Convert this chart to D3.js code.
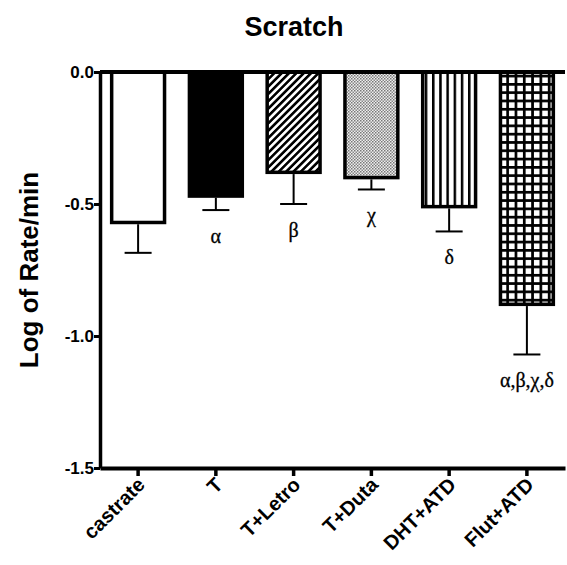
<!DOCTYPE html>
<html>
<head>
<meta charset="utf-8">
<script src="https://cdn.jsdelivr.net/npm/d3@7"></script>
<style>
  body { margin: 0; background: #fff; }
  svg { display: block; }
</style>
</head>
<body>
<div id="chart"></div>
<script>
// data
var groups = ["castrate", "T", "T+Letro", "T+Duta", "DHT+ATD", "Flut+ATD"];
var means  = [-0.57, -0.47, -0.38, -0.40, -0.51, -0.88];
var sems   = [0.115, 0.053, 0.12, 0.045, 0.094, 0.19];
var marks  = ["", "α", "β", "χ", "δ", "α,β,χ,δ"];
var fills  = ["#fff", "#000", "url(#diag)", "url(#dots)", "url(#vlines)", "url(#grid)"];
var yTicks = [0, -0.5, -1.0, -1.5];

var W = 567, H = 565;
var margin = {left: 100, right: 2, top: 72, bottom: 97};
var sansB = "Arial, 'Liberation Sans', sans-serif";

var svg = d3.select("#chart").append("svg")
    .attr("width", W)
    .attr("height", H);

// fill patterns
var defs = svg.append("defs");

var p = defs.append("pattern").attr("id", "diag")
    .attr("patternUnits", "userSpaceOnUse")
    .attr("width", 5.2).attr("height", 5.2)
    .attr("patternTransform", "rotate(45)");
p.append("rect").attr("width", 5.2).attr("height", 5.2).attr("fill", "#fff");
p.append("rect").attr("width", 2.6).attr("height", 5.2).attr("fill", "#000");

p = defs.append("pattern").attr("id", "dots")
    .attr("patternUnits", "userSpaceOnUse")
    .attr("width", 3).attr("height", 3);
p.append("rect").attr("width", 3).attr("height", 3).attr("fill", "#eee");
p.append("rect").attr("width", 1.5).attr("height", 1.5).attr("fill", "#777");
p.append("rect").attr("x", 1.5).attr("y", 1.5).attr("width", 1.5).attr("height", 1.5).attr("fill", "#888");

p = defs.append("pattern").attr("id", "vlines")
    .attr("patternUnits", "userSpaceOnUse")
    .attr("width", 7.2).attr("height", 10);
p.append("rect").attr("width", 7.2).attr("height", 10).attr("fill", "#fff");
p.append("rect").attr("x", 0).attr("width", 2.5).attr("height", 10).attr("fill", "#000");

p = defs.append("pattern").attr("id", "grid")
    .attr("patternUnits", "userSpaceOnUse")
    .attr("width", 8.3).attr("height", 8.3);
p.append("rect").attr("width", 8.3).attr("height", 8.3).attr("fill", "#fff");
p.append("rect").attr("width", 2.7).attr("height", 8.3).attr("fill", "#000");
p.append("rect").attr("width", 8.3).attr("height", 2.7).attr("fill", "#000");

var x = d3.scaleBand()
    .domain(groups)
    .range([margin.left, W - margin.right])
    .paddingInner(0.32)
    .paddingOuter(0.15);

var y = d3.scaleLinear()
    .domain([-1.5, 0])
    .range([H - margin.bottom, margin.top]);

var rows = groups.map(function(g, i) {
  return {g: g, v: means[i], e: sems[i], m: marks[i], f: fills[i]};
});

// bars
svg.selectAll(".bar")
  .data(rows)
  .enter().append("rect")
    .attr("class", "bar")
    .attr("x", function(d) { return x(d.g); })
    .attr("y", y(0))
    .attr("width", x.bandwidth())
    .attr("height", function(d) { return y(d.v) - y(0); })
    .attr("fill", function(d) { return d.f; })
    .attr("stroke", "#000")
    .attr("stroke-width", 3.5);

// error bars (downward only)
var eb = svg.selectAll(".err")
  .data(rows)
  .enter().append("g")
    .attr("class", "err")
    .attr("stroke", "#000")
    .attr("stroke-width", 2);
eb.append("line")
    .attr("x1", function(d) { return x(d.g) + x.bandwidth() / 2; })
    .attr("x2", function(d) { return x(d.g) + x.bandwidth() / 2; })
    .attr("y1", function(d) { return y(d.v) + 1.75; })
    .attr("y2", function(d) { return y(d.v - d.e); });
eb.append("line")
    .attr("x1", function(d) { return x(d.g) + x.bandwidth() / 2 - 13.5; })
    .attr("x2", function(d) { return x(d.g) + x.bandwidth() / 2 + 13.5; })
    .attr("y1", function(d) { return y(d.v - d.e); })
    .attr("y2", function(d) { return y(d.v - d.e); });

// significance letters
svg.selectAll(".mark")
  .data(rows)
  .enter().append("text")
    .attr("class", "mark")
    .attr("x", function(d) { return x(d.g) + x.bandwidth() / 2; })
    .attr("y", function(d) { return y(d.v - d.e) + 33; })
    .attr("text-anchor", "middle")
    .style("font-family", "'Liberation Serif', 'Times New Roman', serif")
    .style("font-size", "20px")
    .style("stroke", "#000")
    .style("stroke-width", 0.3)
    .text(function(d) { return d.m; });

// zero line
svg.append("line")
    .attr("x1", margin.left).attr("x2", W - margin.right)
    .attr("y1", y(0)).attr("y2", y(0))
    .attr("stroke", "#000").attr("stroke-width", 4);

// y axis
var yAxis = svg.append("g")
    .attr("transform", "translate(" + margin.left + ",0)")
    .call(d3.axisLeft(y).tickValues(yTicks).tickSize(6).tickSizeOuter(0));
yAxis.select(".domain").attr("stroke-width", 3.5);
yAxis.selectAll(".tick line").attr("stroke-width", 3);
yAxis.selectAll(".tick text")
    .style("font-family", sansB)
    .style("font-weight", "bold")
    .style("font-size", "17px")
    .attr("x", -6)
    .text(function(d) { return d3.format(".1f")(d).replace("−", "-"); });

// x axis
var xAxis = svg.append("g")
    .attr("transform", "translate(0," + y(-1.5) + ")")
    .call(d3.axisBottom(x).tickSize(8).tickSizeOuter(0));
xAxis.select(".domain").attr("stroke-width", 4);
xAxis.selectAll(".tick line").attr("stroke-width", 3.5);
xAxis.selectAll(".tick text")
    .style("font-family", sansB)
    .style("font-weight", "bold")
    .style("font-size", "20px")
    .attr("text-anchor", "end")
    .attr("dy", 0)
    .attr("y", 0)
    .attr("transform", "translate(8,18) rotate(-45)");

// axis title
svg.append("text")
    .attr("transform", "translate(38," + ((y(0) + y(-1.5)) / 2) + ") rotate(-90)")
    .attr("text-anchor", "middle")
    .style("font-family", sansB)
    .style("font-weight", "bold")
    .style("font-size", "26px")
    .text("Log of Rate/min");

// chart title
svg.append("text")
    .attr("x", 294)
    .attr("y", 36)
    .attr("text-anchor", "middle")
    .style("font-family", sansB)
    .style("font-weight", "bold")
    .style("font-size", "27px")
    .text("Scratch");
</script>
</body>
</html>
